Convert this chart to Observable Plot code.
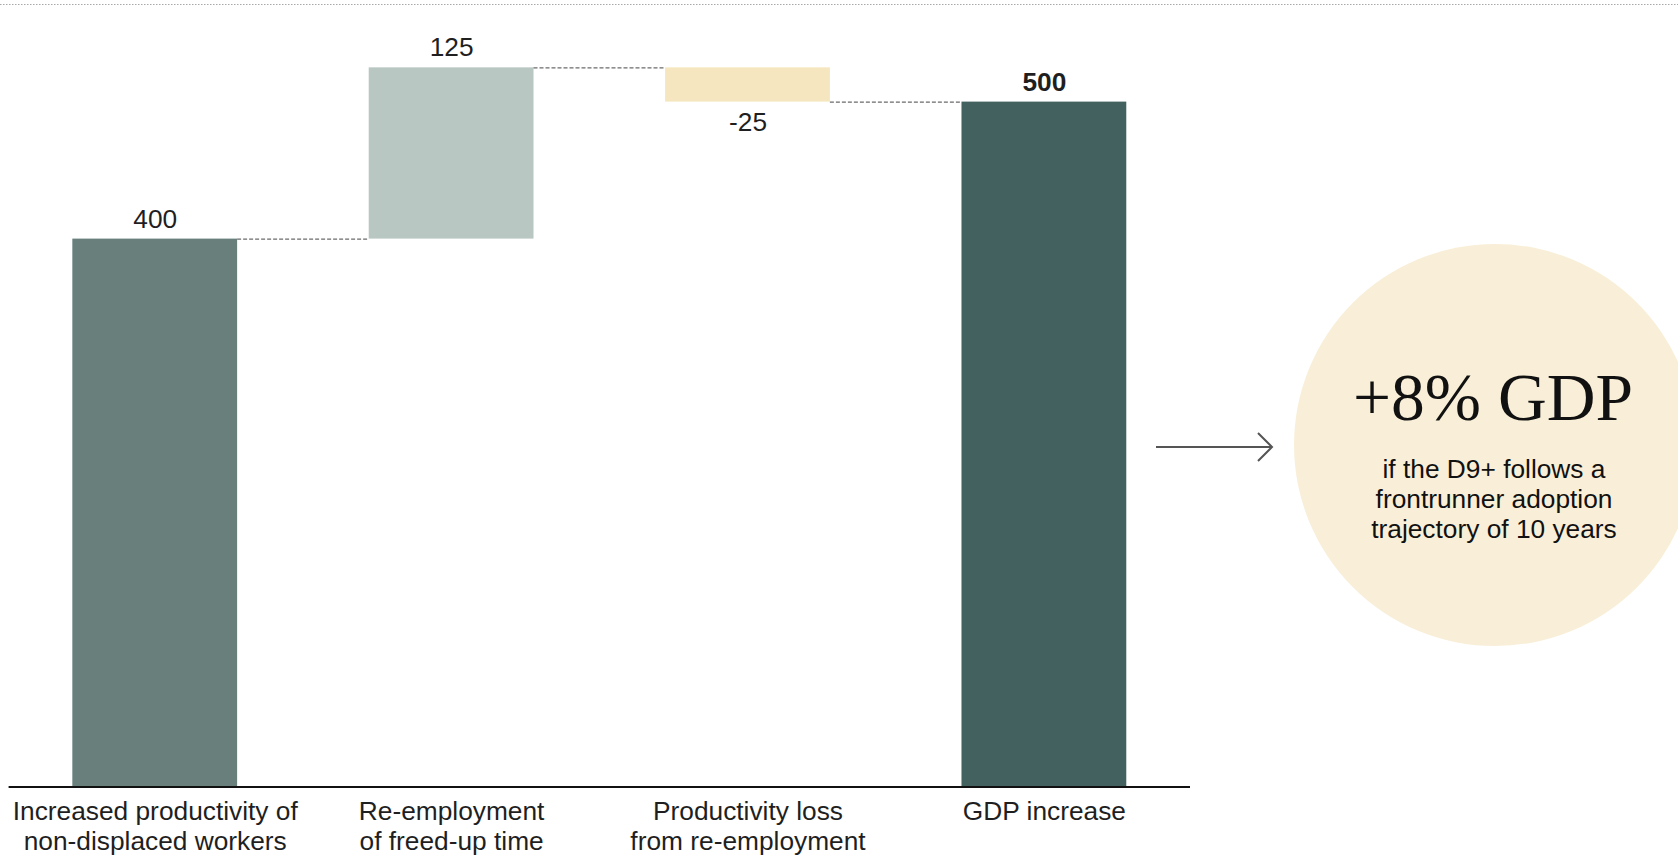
<!DOCTYPE html>
<html>
<head>
<meta charset="utf-8">
<script src="https://cdn.jsdelivr.net/npm/d3@7"></script>
<script src="https://cdn.jsdelivr.net/npm/@observablehq/plot@0.6"></script>
<style>
  html, body { margin: 0; padding: 0; background: #ffffff; overflow: hidden; }
  #chart svg { display: block; }
</style>
</head>
<body>
<div id="chart"></div>
<script>
// Waterfall steps (GDP contribution), last step is a total
const categories = [
  "Increased productivity of\nnon-displaced workers",
  "Re-employment\nof freed-up time",
  "Productivity loss\nfrom re-employment",
  "GDP increase"
];
const values = [400, 125, -25, 500];
const isTotal = [false, false, false, true];

// Callout text
const calloutHeadline = "+8% GDP";
const calloutNote = ["if the D9+ follows a", "frontrunner adoption", "trajectory of 10 years"];

// Styling
const palette = ["#687f7c", "#b8c7c1", "#f5e6bf", "#42615f"];
const width = 1678, height = 855;
const marginLeft = 8.6, marginRight = 488, marginTop = 101.6, marginBottom = 68.4;
const xOptions = {type: "band", domain: categories, paddingInner: 0.444, paddingOuter: 0.215, align: 0.5, round: false};
const bandwidth = Plot.scale({x: {...xOptions, range: [marginLeft, width - marginRight]}}).bandwidth;

// Running totals for the floating bars
let running = 0;
const steps = categories.map((category, i) => {
  const value = values[i];
  let y1, y2;
  if (isTotal[i]) { y1 = 0; y2 = value; }
  else { y1 = running; y2 = running + value; }
  running = y2;
  return {category, value, y1, y2, top: Math.max(y1, y2), bottom: Math.min(y1, y2), total: isTotal[i], color: palette[i]};
});
const connectors = steps.slice(0, -1).map((d, i) => ({from: d.category, to: steps[i + 1].category, level: d.y2}));

const plot = Plot.plot({
  width, height, marginLeft, marginRight, marginTop, marginBottom,
  x: {...xOptions, axis: null},
  y: {domain: [0, 500], axis: null},
  color: {type: "identity"},
  style: {fontFamily: "'Liberation Sans', Arial, sans-serif", fontSize: "26.3px", color: "#1f1f1f", background: "#ffffff"},
  marks: [
    Plot.barY(steps, {x: "category", y1: "y1", y2: "y2", fill: "color"}),
    Plot.ruleY(connectors, {x1: "from", x2: "to", y: "level", insetLeft: bandwidth, insetRight: bandwidth,
      stroke: "#6b6b6b", strokeWidth: 1.3, strokeDasharray: "4,2"}),
    Plot.ruleY([0], {stroke: "#111111", strokeWidth: 2}),
    Plot.text(steps.filter(d => !d.total && d.value >= 0), {x: "category", y: "top", dy: -20, text: d => String(d.value), fill: "#1f1f1f"}),
    Plot.text(steps.filter(d => !d.total && d.value < 0), {x: "category", y: "bottom", dy: 20, text: d => String(d.value), fill: "#1f1f1f"}),
    Plot.text(steps.filter(d => d.total), {x: "category", y: "top", dy: -20, text: d => String(d.value), fontWeight: "bold", fill: "#1f1f1f"}),
    Plot.text(categories, {x: d => d, frameAnchor: "bottom", lineAnchor: "top", dy: 11.5, lineHeight: 1.15, fill: "#1f1f1f"})
  ]
});

// Decorations outside the plot frame: dotted top rule, arrow and callout bubble
const svg = d3.select(plot);
svg.insert("line", ":first-child")
  .attr("x1", 0).attr("x2", width).attr("y1", 4.5).attr("y2", 4.5)
  .attr("stroke", "#a8a8a8").attr("stroke-width", 1).attr("stroke-dasharray", "1.5,1.5");

const callout = svg.append("g");
const cx = 1495, cy = 445, r = 201;
callout.append("circle").attr("cx", cx).attr("cy", cy).attr("r", r).attr("fill", "#f9efd8");
callout.append("path")
  .attr("d", "M1156,447H1272M1258,433L1272,447L1258,461")
  .attr("fill", "none").attr("stroke", "#555555").attr("stroke-width", 2);
callout.append("text")
  .attr("x", 1493).attr("y", 420).attr("text-anchor", "middle")
  .attr("font-family", "'Liberation Serif', 'Times New Roman', serif").attr("font-size", 67.5)
  .attr("fill", "#111111").text(calloutHeadline);
callout.selectAll("text.note").data(calloutNote).join("text")
  .attr("class", "note")
  .attr("x", 1494).attr("y", (d, i) => 478 + i * 30).attr("text-anchor", "middle")
  .attr("font-family", "'Liberation Sans', Arial, sans-serif").attr("font-size", 26.3)
  .attr("fill", "#111111").text(d => d);

document.getElementById("chart").appendChild(plot);
</script>
</body>
</html>
